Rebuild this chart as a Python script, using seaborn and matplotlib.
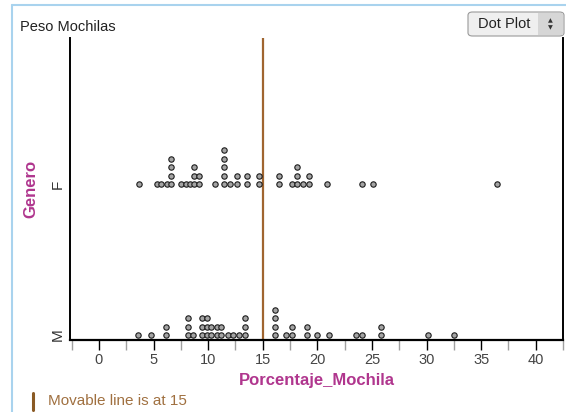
import numpy as np
import pandas as pd
import matplotlib
matplotlib.use("Agg")
import matplotlib.pyplot as plt
import seaborn as sns
from matplotlib.patches import FancyBboxPatch, Rectangle
from matplotlib.lines import Line2D

# ---------------- data ----------------
categories = ["M", "F"]
f_values = [3.7, 5.3, 5.7, 6.2, 6.6, 6.6, 6.6, 6.6, 7.5, 8.0, 8.3,
            8.7, 8.7, 8.7, 9.2, 9.2, 10.6, 11.5, 11.5, 11.5, 11.5, 11.5,
            12.0, 12.6, 12.6, 13.6, 13.6, 14.7, 14.7, 16.5, 16.5, 17.7,
            18.1, 18.1, 18.1, 18.7, 19.2, 19.2, 20.9, 24.1, 25.1, 36.5]
m_values = [3.6, 4.8, 6.1, 6.1, 8.2, 8.2, 8.2, 8.6, 9.4, 9.4, 9.4,
            9.9, 9.9, 9.9, 10.3, 10.3, 10.8, 10.8, 11.2, 11.2, 11.8, 12.3,
            12.8, 13.4, 13.4, 13.4, 16.1, 16.1, 16.1, 16.1, 17.1, 17.7, 17.7,
            19.1, 19.1, 20.0, 21.1, 23.5, 24.1, 25.8, 25.8, 30.1, 32.5]
movable_line = 15
x_ticks = [0, 5, 10, 15, 20, 25, 30, 35, 40]
x_label = "Porcentaje_Mochila"
y_label = "Genero"
title = "Peso Mochilas"

# ---------------- build table & stacking ----------------
df = pd.concat([
    pd.DataFrame({"Genero": "M", "Porcentaje_Mochila": m_values}),
    pd.DataFrame({"Genero": "F", "Porcentaje_Mochila": f_values}),
], ignore_index=True)
df["cat"] = df["Genero"].map({c: i for i, c in enumerate(categories)})
df["level"] = df.groupby(["Genero", "Porcentaje_Mochila"]).cumcount()
STEP = 8.4 / 151.0
df["ypos"] = df["cat"] + df["level"] * STEP

# ---------------- figure ----------------
sns.set_style("white")
plt.rcParams["font.family"] = ["Liberation Sans", "DejaVu Sans"]

W, H = 566, 412
fig = plt.figure(figsize=(W / 100, H / 100), dpi=100)
fig.patch.set_facecolor("white")

def fx(px):
    return px / W

def fy(py):
    return 1 - py / H

ax = fig.add_axes([fx(70), fy(340), fx(563) - fx(70), fy(38) - fy(340)])

sns.scatterplot(data=df, x="Porcentaje_Mochila", y="ypos", ax=ax,
                s=15, color="#a4a4a4", edgecolor="#1c1c1c", linewidth=0.8,
                legend=False, zorder=3)

ax.axvline(movable_line, color="#a06530", lw=1.6, zorder=2)

x0 = (70 - 99) / 10.95
x1 = (563 - 99) / 10.95
ax.set_xlim(x0, x1)
ax.set_ylim(-5 / 151, 297 / 151)

ax.set_xticks(x_ticks)
ax.set_xticks([t + 2.5 for t in [-5] + x_ticks], minor=True)
ax.tick_params(axis="x", which="major", direction="out", length=7, width=1.0,
               color="black", labelsize=10.5, labelcolor="#444444", pad=2, bottom=True)
ax.tick_params(axis="x", which="minor", direction="out", length=7, width=1.0,
               color="#a0a0a0", bottom=True)
ax.set_yticks([0, 1])
ax.set_yticklabels(categories, rotation=90, va="center", fontsize=11, color="#333333")
ax.tick_params(axis="y", length=0, pad=4)

for side in ["left", "right", "bottom"]:
    ax.spines[side].set_visible(True)
    ax.spines[side].set_color("black")
ax.spines["left"].set_linewidth(1.4)
ax.spines["right"].set_linewidth(1.4)
ax.spines["bottom"].set_linewidth(1.6)
ax.spines["top"].set_visible(False)

ax.set_xlabel(x_label, fontsize=12, fontweight="bold", color="#b0368e", labelpad=5)
ax.set_ylabel(y_label, fontsize=12, fontweight="bold", color="#b0368e", labelpad=9)

# ---------------- decoration ----------------
# light blue frame
fig.add_artist(Line2D([fx(12), fx(566)], [fy(5), fy(5)], color="#a9d3ee", lw=1.5))
fig.add_artist(Line2D([fx(12), fx(12)], [fy(5), fy(412)], color="#a9d3ee", lw=1.5))

fig.text(fx(20), fy(27), title, fontsize=10.5, color="#222222", va="center", ha="left")

# Dot Plot button
btn = FancyBboxPatch((fx(468), fy(36)), fx(564) - fx(468), fy(12) - fy(36),
                     boxstyle="round,pad=0,rounding_size=0.008",
                     transform=fig.transFigure, facecolor="#efefef",
                     edgecolor="#9a9a9a", lw=0.8)
fig.add_artist(btn)
fig.add_artist(Rectangle((fx(538), fy(35)), fx(563) - fx(538), fy(13) - fy(35),
                         transform=fig.transFigure, facecolor="#d6d6d6",
                         edgecolor="none"))
fig.text(fx(504), fy(23.5), "Dot Plot", fontsize=10.5, color="#222222",
         ha="center", va="center")
fig.text(fx(550), fy(20.5), "▲", fontsize=4.5, color="#333333", ha="center",
         va="center", family="DejaVu Sans")
fig.text(fx(550), fy(28), "▼", fontsize=4.5, color="#333333", ha="center",
         va="center", family="DejaVu Sans")

# movable-line legend
fig.add_artist(Line2D([fx(33), fx(33)], [fy(393), fy(410)], color="#8a5a24", lw=2.2))
fig.text(fx(48), fy(401), f"Movable line is at {movable_line}", fontsize=11,
         color="#a07040", ha="left", va="center")

fig.savefig("out.png", dpi=100, facecolor="white")
